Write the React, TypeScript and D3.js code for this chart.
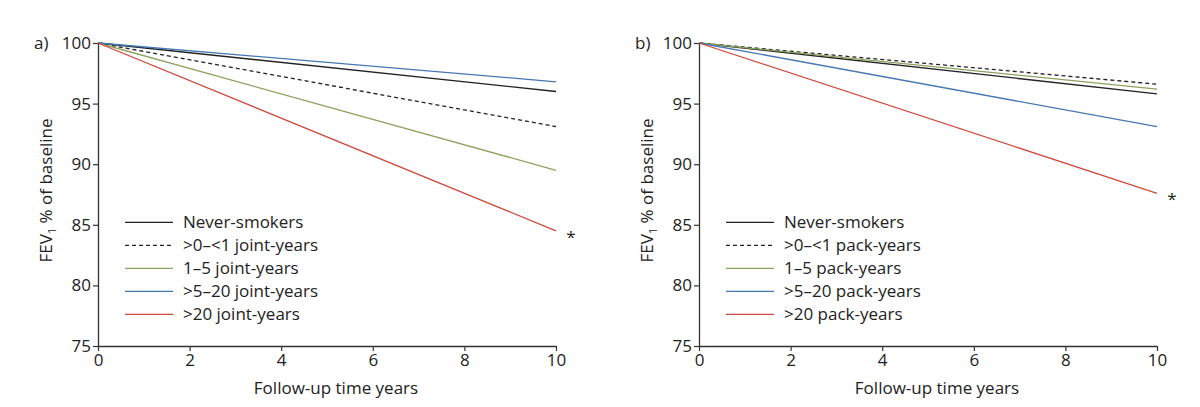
import { useEffect, useRef } from "react"
import * as d3 from "d3"

// follow-up years for every line (straight lines from baseline)
const years = [0, 10]

const jointLabels = ["Never-smokers", ">0–<1 joint-years", "1–5 joint-years", ">5–20 joint-years", ">20 joint-years"]
const packLabels = ["Never-smokers", ">0–<1 pack-years", "1–5 pack-years", ">5–20 pack-years", ">20 pack-years"]

// FEV1 % of baseline at year 0 and year 10
const jointValues = [
  [100, 96.0],
  [100, 93.1],
  [100, 89.5],
  [100, 96.8],
  [100, 84.5],
]
const packValues = [
  [100, 95.8],
  [100, 96.6],
  [100, 96.2],
  [100, 93.1],
  [100, 87.6],
]

const xTicks = [0, 2, 4, 6, 8, 10]
const yTicks = [75, 80, 85, 90, 95, 100]

const colors = ["#222222", "#222222", "#8ba25e", "#4677b2", "#cf4a3e"]
const dashes = [null, "4,3", null, null, null]

const FONT = "'Open Sans', sans-serif"

export default function App() {
  const svgRef = useRef<SVGSVGElement>(null)

  useEffect(() => {
    if (!svgRef.current) return
    document.body.style.margin = "0"
    const svg = d3.select(svgRef.current)
    svg.selectAll("*").remove()

    const panels = [
      { tag: "a)", left: 98, labels: jointLabels, values: jointValues },
      { tag: "b)", left: 699, labels: packLabels, values: packValues },
    ]

    panels.forEach((p) => {
      const width = 458
      const top = 43
      const height = 303
      const g = svg.append("g").attr("transform", `translate(${p.left}, ${top})`)

      const x = d3.scaleLinear().domain([0, 10]).range([0, width])
      const y = d3.scaleLinear().domain([75, 100]).range([height, 0])

      // x axis
      const xa = g
        .append("g")
        .attr("transform", `translate(0, ${height})`)
        .call(d3.axisBottom(x).tickValues(xTicks).tickSize(5).tickPadding(3).tickSizeOuter(0))
      xa.select(".domain").attr("stroke", "#333").attr("stroke-width", 1.3)
      xa.selectAll("line").attr("stroke", "#333").attr("stroke-width", 1.2)
      xa.selectAll("text").style("font-family", FONT).style("font-size", "17px").attr("fill", "#222")

      // y axis
      const ya = g.append("g").call(d3.axisLeft(y).tickValues(yTicks).tickSize(5).tickPadding(2).tickSizeOuter(0))
      ya.select(".domain").attr("stroke", "#333").attr("stroke-width", 1.3)
      ya.selectAll("line").attr("stroke", "#333").attr("stroke-width", 1.2)
      ya.selectAll("text").style("font-family", FONT).style("font-size", "17px").attr("fill", "#222")

      // panel tag
      svg
        .append("text")
        .attr("x", p.left - 64)
        .attr("y", top + 6)
        .style("font-family", FONT)
        .style("font-size", "17px")
        .attr("fill", "#222")
        .text(p.tag)

      // axis titles
      g.append("text")
        .attr("x", width / 2 + 9)
        .attr("y", height + 48)
        .attr("text-anchor", "middle")
        .style("font-family", FONT)
        .style("font-size", "17px")
        .attr("fill", "#222")
        .text("Follow-up time years")

      const yl = g
        .append("text")
        .attr("transform", `translate(-46, ${height / 2 - 4}) rotate(-90)`)
        .attr("text-anchor", "middle")
        .style("font-family", FONT)
        .style("font-size", "17px")
        .attr("fill", "#222")
      yl.append("tspan").text("FEV")
      yl.append("tspan").attr("dy", 4).style("font-size", "11px").text("1")
      yl.append("tspan").attr("dy", -4).text(" % of baseline")

      // lines
      const line = d3
        .line<number>()
        .x((_, i) => x(years[i]))
        .y((d) => y(d))

      p.values.forEach((vals, i) => {
        g.append("path")
          .datum(vals)
          .attr("fill", "none")
          .attr("stroke", colors[i])
          .attr("stroke-width", 1.3)
          .attr("stroke-dasharray", dashes[i])
          .attr("d", line)
      })

      // significance marker next to the last series
      const last = p.values[p.values.length - 1]
      g.append("text")
        .attr("x", x(10) + 15)
        .attr("y", y(last[1]) + 12)
        .attr("text-anchor", "middle")
        .style("font-family", FONT)
        .style("font-size", "17px")
        .attr("fill", "#222")
        .text("*")

      // legend
      const legend = g.append("g").attr("transform", `translate(27, ${y(85.2)})`)
      p.labels.forEach((label, i) => {
        const row = legend.append("g").attr("transform", `translate(0, ${i * 23})`)
        row
          .append("line")
          .attr("x1", 0)
          .attr("x2", 48)
          .attr("stroke", colors[i])
          .attr("stroke-width", 1.3)
          .attr("stroke-dasharray", dashes[i])
        row
          .append("text")
          .attr("x", 58)
          .attr("y", 6)
          .style("font-family", FONT)
          .style("font-size", "17px")
          .attr("fill", "#222")
          .text(label)
      })
    })
  }, [])

  return <svg ref={svgRef} width={1200} height={407} style={{ display: "block", background: "#fff" }} />
}
